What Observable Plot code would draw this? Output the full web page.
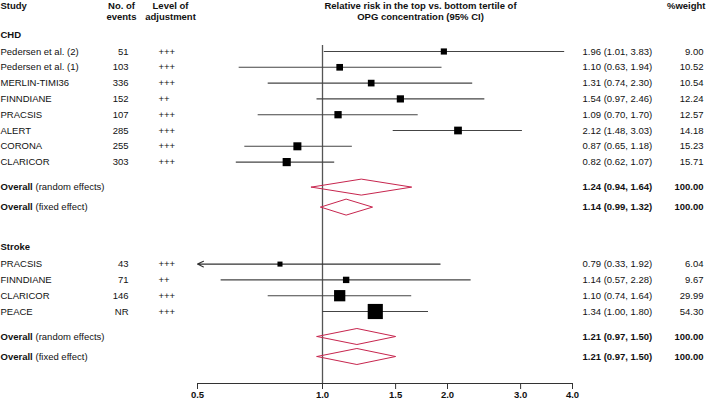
<!DOCTYPE html>
<html><head><meta charset="utf-8">
<script src="https://cdn.jsdelivr.net/npm/d3@7"></script>
<script src="https://cdn.jsdelivr.net/npm/@observablehq/plot@0.6"></script>
<style>body{margin:0;background:#fff;} svg{display:block}</style>
</head><body><div id="chart"></div>
<script>
// ---------- data ----------
const chdStudies = ["Pedersen et al. (2)", "Pedersen et al. (1)", "MERLIN-TIMI36", "FINNDIANE", "PRACSIS", "ALERT", "CORONA", "CLARICOR"];
const chdEvents = ["51", "103", "336", "152", "107", "285", "255", "303"];
const chdAdjust = ["+++", "+++", "+++", "++", "+++", "+++", "+++", "+++"];
const chdRR = [1.96, 1.10, 1.31, 1.54, 1.09, 2.12, 0.87, 0.82];
const chdLo = [1.01, 0.63, 0.74, 0.97, 0.70, 1.48, 0.65, 0.62];
const chdHi = [3.83, 1.94, 2.30, 2.46, 1.70, 3.03, 1.18, 1.07];
const chdWeight = [9.00, 10.52, 10.54, 12.24, 12.57, 14.18, 15.23, 15.71];
const chdRandom = [1.24, 0.94, 1.64];
const chdFixed = [1.14, 0.99, 1.32];

const strokeStudies = ["PRACSIS", "FINNDIANE", "CLARICOR", "PEACE"];
const strokeEvents = ["43", "71", "146", "NR"];
const strokeAdjust = ["+++", "++", "+++", "+++"];
const strokeRR = [0.79, 1.14, 1.10, 1.34];
const strokeLo = [0.33, 0.57, 0.74, 1.00];
const strokeHi = [1.92, 2.28, 1.64, 1.80];
const strokeWeight = [6.04, 9.67, 29.99, 54.30];
const strokeRandom = [1.21, 0.97, 1.50];
const strokeFixed = [1.21, 0.97, 1.50];

const groupNames = ["CHD", "Stroke"];
const overallLabels = ["(random effects)", "(fixed effect)"];
const xTicks = [0.5, 1.0, 1.5, 2.0, 3.0, 4.0];
const xDomain = [0.5, 4];
const headStudy = ["Study"];
const headEvents = ["No. of", "events"];
const headAdjust = ["Level of", "adjustment"];
const headRR = ["Relative risk in the top vs. bottom tertile of", "OPG concentration (95% CI)"];
const headWeight = ["%weight"];

// ---------- layout ----------
const FONT = "'Liberation Sans', Arial, Helvetica, sans-serif";
const FS = 9.5;
const ROW = 15.8;
const fmt = (v) => v.toFixed(2);
const ci = (r, l, h) => `${fmt(r)} (${fmt(l)}, ${fmt(h)})`;

const studies = [], overall = [], groupHeads = [];
function addGroup(name, headY, names, ev, adj, rr, lo, hi, w, rnd, fix) {
  groupHeads.push({label: name, y: headY});
  const y = headY + 17;
  names.forEach((s, i) => {
    studies.push({study: s, events: ev[i], adj: adj[i], rr: rr[i], lo: lo[i], hi: hi[i], w: w[i],
      est: ci(rr[i], lo[i], hi[i]), weight: w[i].toFixed(2), y: y + i * ROW});
  });
  const last = y + (names.length - 1) * ROW;
  const yr = last + 25, yf = yr + 20;
  overall.push({id: name + "r", label: overallLabels[0], rr: rnd[0], lo: rnd[1], hi: rnd[2], y: yr});
  overall.push({id: name + "f", label: overallLabels[1], rr: fix[0], lo: fix[1], hi: fix[2], y: yf});
  return yf;
}
const endChd = addGroup(groupNames[0], 34, chdStudies, chdEvents, chdAdjust, chdRR, chdLo, chdHi, chdWeight, chdRandom, chdFixed);
addGroup(groupNames[1], endChd + 40, strokeStudies, strokeEvents, strokeAdjust, strokeRR, strokeLo, strokeHi, strokeWeight, strokeRandom, strokeFixed);
overall.forEach(o => { o.est = ci(o.rr, o.lo, o.hi); o.weight = "100.00"; });

const clipped = studies.filter(d => d.lo < xDomain[0]);
const normal = studies.filter(d => d.lo >= xDomain[0]);

const DH = 8; // diamond half height (px)
const diamondPts = overall.flatMap(o => [
  {id: o.id, x: o.lo, y: o.y}, {id: o.id, x: o.rr, y: o.y - DH},
  {id: o.id, x: o.hi, y: o.y}, {id: o.id, x: o.rr, y: o.y + DH},
  {id: o.id, x: o.lo, y: o.y}
]);

const AXIS_Y = 383;
const HEAD_Y = [5, 16.5];

const txt = (data, opts) => Plot.text(data, {frameAnchor: "left", fontSize: FS, fill: "#111", ...opts});
const hdr = (lines, dx, anchor) => txt(lines.map((t, i) => ({t, y: HEAD_Y[i]})),
  {y: "y", text: "t", fontWeight: "bold", textAnchor: anchor, dx});

const chart = Plot.plot({
  width: 709, height: 403,
  marginLeft: 0, marginRight: 0, marginTop: 0, marginBottom: 403 - AXIS_Y,
  style: {fontFamily: FONT, fontSize: FS + "px", background: "#fff"},
  x: {type: "log", domain: xDomain, range: [197, 572], label: null},
  y: {type: "linear", domain: [0, AXIS_Y], range: [0, AXIS_Y], axis: null},
  r: {type: "sqrt", domain: [0, 100], range: [0, 11.6]},
  marks: [
    Plot.ruleX([1], {y1: 45, y2: AXIS_Y, stroke: "#555", strokeWidth: 1.3}),
    Plot.ruleY([AXIS_Y], {x1: xDomain[0], x2: xDomain[1], stroke: "#333", strokeWidth: 1.2}),
    Plot.axisX({ticks: xTicks, tickFormat: d => d.toFixed(1), tickSize: 6, tickPadding: 2,
      fontSize: FS, fontWeight: "bold", stroke: "#333", fill: "#111", label: null}),
    Plot.ruleY(normal, {y: "y", x1: "lo", x2: "hi", stroke: "#444", strokeWidth: 1.1}),
    Plot.arrow(clipped, {x1: "hi", x2: () => xDomain[0], y1: "y", y2: "y", stroke: "#333",
      strokeWidth: 1.1, headLength: 9, headAngle: 50}),
    Plot.dot(studies, {x: "rr", y: "y", r: "w", symbol: "square", fill: "#000", stroke: null}),
    Plot.line(diamondPts, {x: "x", y: "y", z: "id", stroke: "#c7254e", strokeWidth: 1, curve: "linear"}),
    // headers
    hdr(headStudy, 0, "start"),
    hdr(headEvents, 121, "middle"),
    hdr(headAdjust, 170, "middle"),
    hdr(headRR, 420, "middle"),
    hdr(headWeight, 705, "end"),
    // group headers
    txt(groupHeads, {y: "y", text: "label", fontWeight: "bold", textAnchor: "start"}),
    // study rows
    txt(studies, {y: "y", text: "study", textAnchor: "start"}),
    txt(studies, {y: "y", text: "events", textAnchor: "end", dx: 128}),
    txt(studies, {y: "y", text: "adj", textAnchor: "start", dx: 158}),
    txt(studies, {y: "y", text: "est", textAnchor: "start", dx: 582}),
    txt(studies, {y: "y", text: "weight", textAnchor: "end", dx: 703}),
    // overall rows
    txt(overall, {y: "y", text: () => "Overall", fontWeight: "bold", textAnchor: "start"}),
    txt(overall, {y: "y", text: "label", textAnchor: "start", dx: 35}),
    txt(overall, {y: "y", text: "est", fontWeight: "bold", textAnchor: "start", dx: 582}),
    txt(overall, {y: "y", text: "weight", fontWeight: "bold", textAnchor: "end", dx: 703})
  ]
});
document.getElementById("chart").append(chart);
</script>
</body></html>
